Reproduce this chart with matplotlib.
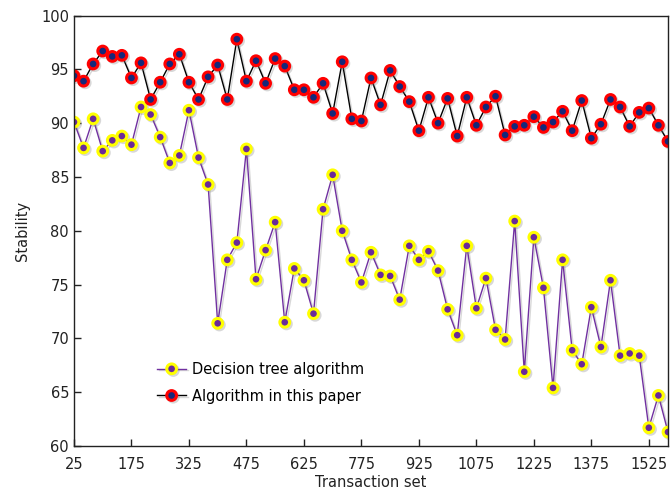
import matplotlib
matplotlib.use("Agg")
import matplotlib.pyplot as plt
import matplotlib.patheffects as pe

# x positions: transaction set sizes
transactions = list(range(25, 1576, 25))

# Decision tree algorithm (yellow / purple)
decision_tree = [
    90.1, 87.7, 90.4, 87.4, 88.4, 88.8, 88.0, 91.5, 90.8, 88.7,
    86.3, 87.0, 91.2, 86.8, 84.3, 71.4, 77.3, 78.9, 87.6, 75.5,
    78.2, 80.8, 71.5, 76.5, 75.4, 72.3, 82.0, 85.2, 80.0, 77.3,
    75.2, 78.0, 75.9, 75.8, 73.6, 78.6, 77.3, 78.1, 76.3, 72.7,
    70.3, 78.6, 72.8, 75.6, 70.8, 69.9, 80.9, 66.9, 79.4, 74.7,
    65.4, 77.3, 68.9, 67.6, 72.9, 69.2, 75.4, 68.4, 68.6, 68.4,
    61.7, 64.7, 61.3,
]

# Algorithm in this paper (red / navy)
this_paper = [
    94.4, 93.9, 95.5, 96.7, 96.2, 96.3, 94.2, 95.6, 92.2, 93.8,
    95.5, 96.4, 93.8, 92.2, 94.3, 95.4, 92.2, 97.8, 93.9, 95.8,
    93.7, 96.0, 95.3, 93.1, 93.1, 92.4, 93.7, 90.9, 95.7, 90.4,
    90.2, 94.2, 91.7, 94.9, 93.4, 92.0, 89.3, 92.4, 90.0, 92.3,
    88.8, 92.4, 89.8, 91.5, 92.5, 88.9, 89.7, 89.8, 90.6, 89.6,
    90.1, 91.1, 89.3, 92.1, 88.6, 89.9, 92.2, 91.5, 89.7, 91.0,
    91.4, 89.8, 88.3,
]

xticks = [25, 175, 325, 475, 625, 775, 925, 1075, 1225, 1375, 1525]
yticks = [60, 65, 70, 75, 80, 85, 90, 95, 100]

plt.rcParams['font.family'] = ['DejaVu Sans']

fig = plt.figure(figsize=(6.7, 4.91), dpi=100)
ax = fig.add_axes([0.1104, 0.0916, 0.8866, 0.8768])

shadow = [pe.SimpleLineShadow(offset=(1.2, -1.2), shadow_color='gray', alpha=0.3), pe.Normal()]

ax.plot(transactions, decision_tree, color='#7030a0', linewidth=1.0,
        marker='o', markersize=7, markerfacecolor='#6a2a9a',
        markeredgecolor='#ffff00', markeredgewidth=2.2,
        label='Decision tree algorithm', path_effects=shadow)
ax.plot(transactions, this_paper, color='black', linewidth=1.0,
        marker='o', markersize=7, markerfacecolor='#14287a',
        markeredgecolor='#ff0000', markeredgewidth=2.2,
        label='Algorithm in this paper', path_effects=shadow)

ax.set_xlim(25, 1575)
ax.set_ylim(60, 100)
ax.set_xticks(xticks)
ax.set_yticks(yticks)
ax.tick_params(direction='in', length=5, width=1, labelsize=10.5, colors='#222222')
ax.tick_params(axis='x', pad=8)

for s in ax.spines.values():
    s.set_color('#222222')
    s.set_linewidth(1.0)

ax.set_xlabel('Transaction set', fontsize=10.5, labelpad=2, color='#222222')
ax.set_ylabel('Stability', fontsize=10.5, labelpad=8, color='#222222')

ax.legend(loc='lower left', bbox_to_anchor=(0.13, 0.085), frameon=False,
          fontsize=10.5, labelspacing=0.8, handlelength=2.0,
          handletextpad=0.4, borderaxespad=0)

fig.savefig('out.png', dpi=100)
